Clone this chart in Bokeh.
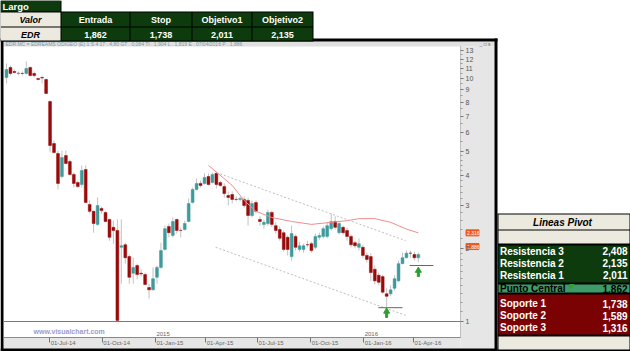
from bokeh.plotting import figure
from bokeh.models import Range1d, FixedTicker, PrintfTickFormatter, ColumnDataSource, LinearScale
from bokeh.core.properties import value
from bokeh.embed import file_html
from bokeh.resources import INLINE

# ---------------- data (weekly candles) ----------------
opens = [10.09, 11.10, 10.69, 10.49, 10.49, 10.49, 11.10, 10.49, 10.00, 10.09,
         9.91, 8.04, 5.40, 4.91, 3.95, 4.82, 4.55, 4.03, 3.73, 3.66,
         4.22, 3.03, 2.84, 2.51, 2.92, 2.81, 2.63, 2.44, 2.37, 2.02,
         2.07, 1.85, 1.58, 1.70, 1.58, 1.56, 1.38, 1.35, 1.52, 1.67,
         1.98, 2.46, 2.26, 2.63, 2.37, 2.39, 2.58, 3.09, 3.49, 3.70,
         3.70, 3.95, 3.73, 4.07, 3.73, 3.59, 3.30, 3.33, 3.18, 3.18,
         3.18, 3.15, 2.73, 3.09, 2.63, 2.51, 2.53, 2.81, 2.48, 2.39,
         2.32, 2.22, 1.85, 2.24, 1.98, 1.98, 2.07, 2.09, 2.02, 2.22,
         2.24, 2.24, 2.41, 2.58, 2.32, 2.44, 2.37, 2.24, 2.11, 2.02,
         2.02, 1.87, 1.85, 1.64, 1.55, 1.53, 1.30, 1.30, 1.37, 1.47,
         1.73, 1.83, 1.91, 1.886, 1.83]
closes = [10.89, 10.49, 10.59, 10.53, 10.49, 10.99, 10.29, 10.29, 9.91, 10.05,
          8.68, 5.30, 4.96, 3.70, 4.73, 4.47, 4.03, 3.70, 3.59, 4.18,
          3.09, 2.84, 2.53, 3.00, 2.86, 2.58, 2.22, 2.37, 1.01, 2.05,
          1.83, 1.52, 1.67, 1.56, 1.57, 1.42, 1.35, 1.50, 1.67, 1.96,
          2.41, 2.32, 2.58, 2.37, 2.37, 2.53, 3.06, 3.49, 3.70, 3.63,
          3.91, 3.66, 4.03, 3.66, 3.63, 3.36, 3.24, 3.18, 3.18, 3.21,
          3.00, 2.73, 3.06, 2.84, 2.58, 2.56, 2.81, 2.51, 2.37, 2.20,
          1.98, 1.98, 2.30, 2.02, 2.05, 2.05, 2.07, 1.96, 2.24, 2.26,
          2.41, 2.48, 2.58, 2.44, 2.53, 2.32, 2.24, 2.07, 2.05, 2.09,
          1.87, 1.80, 1.59, 1.47, 1.45, 1.32, 1.27, 1.35, 1.50, 1.73,
          1.83, 1.91, 1.91, 1.83, 1.886]
highs = [11.53, 11.31, 10.89, 10.69, 10.69, 11.75, 11.20, 10.69, 10.09, 10.29,
         10.00, 8.12, 5.56, 5.05, 5.05, 5.05, 4.64, 4.10, 3.80, 4.39,
         4.39, 3.15, 2.86, 3.24, 2.97, 2.84, 2.65, 2.60, 2.63, 2.63,
         2.11, 1.886, 1.83, 1.73, 1.64, 1.59, 1.43, 1.67, 1.70, 2.11,
         2.48, 2.53, 2.68, 2.65, 2.44, 2.60, 3.21, 3.56, 3.88, 3.80,
         4.07, 4.07, 4.10, 4.14, 3.80, 3.70, 3.43, 3.43, 3.27, 3.27,
         3.27, 3.24, 3.15, 3.15, 2.71, 2.63, 2.89, 2.86, 2.56, 2.46,
         2.37, 2.26, 2.48, 2.28, 2.13, 2.09, 2.15, 2.13, 2.30, 2.32,
         2.46, 2.56, 2.78, 2.71, 2.60, 2.48, 2.44, 2.28, 2.15, 2.20,
         2.07, 1.92, 1.91, 1.70, 1.59, 1.56, 1.37, 1.41, 1.55, 1.78,
         1.92, 1.96, 1.96, 1.94, 1.92]
lows = [9.54, 10.29, 10.49, 10.29, 10.29, 10.39, 10.19, 10.09, 9.81, 9.54,
        8.68, 4.96, 4.91, 3.49, 3.88, 4.43, 3.99, 3.56, 3.56, 3.56,
        3.09, 2.78, 2.32, 2.48, 2.78, 2.56, 2.15, 2.09, 1.00, 1.43,
        1.73, 1.43, 1.43, 1.49, 1.53, 1.41, 1.24, 1.34, 1.43, 1.65,
        1.96, 2.22, 2.22, 2.30, 2.22, 2.37, 2.56, 3.06, 3.46, 3.56,
        3.66, 3.63, 3.70, 3.53, 3.59, 3.24, 3.00, 3.06, 3.12, 3.12,
        2.94, 2.48, 2.68, 2.78, 2.48, 2.41, 2.48, 2.44, 2.30, 2.15,
        1.94, 1.87, 1.78, 1.96, 1.94, 1.92, 2.02, 1.92, 1.98, 2.17,
        2.20, 2.20, 2.37, 2.39, 2.28, 2.28, 2.15, 2.02, 2.00, 1.96,
        1.82, 1.75, 1.47, 1.42, 1.41, 1.30, 1.15, 1.27, 1.34, 1.45,
        1.72, 1.82, 1.83, 1.78, 1.75]

ma_idx = [51, 57, 60, 63, 67, 72, 77, 82, 86, 89, 93, 97, 101, 104]
ma_val = [4.39, 3.63, 3.15, 2.84, 2.68, 2.58, 2.51, 2.56, 2.60, 2.65, 2.65, 2.56, 2.40, 2.316]

chan_up_idx = [53.0, 100.8]
chan_up_val = [4.10, 2.15]
chan_lo_idx = [52.8, 100.8]
chan_lo_val = [2.02, 1.06]

level_x0 = [93.9, 101.8]
level_x1 = [100.0, 107.8]
level_val = [1.14, 1.70]
arrow_idx = [96, 104]
arrow_val = [1.10, 1.62]
base_level = 1.0
last_price = 1.886
ma_last = 2.316

tick_idx = [10.9, 24.2, 37.6, 50.3, 63.4, 76.8, 90.2, 102.8]
tick_labels = ["01-Jul-14", "01-Oct-14", "01-Jan-15", "01-Apr-15",
               "01-Jul-15", "01-Oct-15", "01-Jan-16", "01-Apr-16"]
year_idx = [37.6, 90.2]
year_labels = ["2015", "2016"]
y_ticks = [1, 2, 3, 4, 5, 6, 7, 8, 9, 10, 11, 12, 13]

top_headers = ["Entrada", "Stop", "Objetivo1", "Objetivo2"]
top_values = ["1,862", "1,738", "2,011", "2,135"]
pivot_names = ["Resistencia 3", "Resistencia 2", "Resistencia 1", "Punto Central",
               "Soporte 1", "Soporte 2", "Soporte 3"]
pivot_values = ["2,408", "2,135", "2,011", "1,862", "1,738", "1,589", "1,316"]

# ---------------- page geometry (pixels) ----------------
W, H = 630, 351
PX0, DX = 6.0, 3.96          # pixel of candle 0, pixels per candle
Y1PIX, KDEC = 321.0, 243.0   # pixel of price 1.0, pixels per decade


def idx_at(xp):
    return (xp - PX0) / DX


def price_at(yp):
    return 10 ** ((Y1PIX - yp) / KDEC)


PL, PR, PT, PB = 3, 460, 46, 337      # plot area inside chart window
UP, DOWN = "#3F9B9B", "#990A0A"
DKGREEN, BEIGE, MIDGREEN, DKRED = "#0D3B0D", "#ECE9DF", "#3E9A66", "#7A0202"
BAND = "#E6E6E6"
FONT = "Liberation Sans"

p = figure(width=W, height=H, x_range=Range1d(idx_at(0), idx_at(W)),
           y_range=Range1d(price_at(H), price_at(0)), y_axis_type="log",
           y_axis_location="right", output_backend="svg", toolbar_location=None,
           min_border=0, min_border_left=0, min_border_right=0,
           min_border_top=0, min_border_bottom=0)
p.extra_x_ranges = {"px": Range1d(0, W)}
p.extra_y_ranges = {"py": Range1d(H, 0)}
p.extra_x_scales = {"px": LinearScale()}
p.extra_y_scales = {"py": LinearScale()}
p.background_fill_color = "white"
p.border_fill_color = "white"
p.outline_line_color = None
p.grid.visible = False

# axes drawn inside the canvas at the chart window's edges
minor = [round(1 + 0.1 * k, 2) for k in range(1, 10)] + \
        [round(2 + 0.2 * k, 2) for k in range(1, 15) if k % 5] + \
        [round(5 + 0.5 * k, 2) for k in range(1, 16) if k % 2]
ya = p.yaxis[0]
ya.fixed_location = idx_at(PR)
ya.bounds = (price_at(PB), price_at(PT))
ya.ticker = FixedTicker(ticks=y_ticks, minor_ticks=minor)
ya.formatter = PrintfTickFormatter(format="%d")
ya.major_label_text_font_size = "7px"
ya.major_label_text_font = FONT
ya.major_label_text_color = "#555555"
ya.major_label_standoff = 2
ya.axis_line_color = "#8A8A8A"
ya.axis_line_dash = "1 1"
ya.major_tick_in = 0
ya.major_tick_out = 3
ya.minor_tick_in = 0
ya.minor_tick_out = 2
ya.major_tick_line_color = "#777777"
ya.minor_tick_line_color = "#999999"

xa = p.xaxis[0]
xa.fixed_location = price_at(PB)
xa.bounds = (idx_at(PL), idx_at(PR))
xa.ticker = FixedTicker(ticks=tick_idx)
xa.major_label_text_color = None
xa.axis_line_color = "#8A8A8A"
xa.major_tick_in = 0
xa.major_tick_out = 5
xa.minor_tick_out = 0
xa.major_tick_line_color = "#777777"

PXR = dict(x_range_name="px", y_range_name="py")


def boxes(ls, ts, rs, bs, color):
    p.quad(left=ls, right=rs, top=ts, bottom=bs, fill_color=color, line_color=None, **PXR)


def texts(xs, ys, ss, size="9px", color="white", style="bold", align="center", **kw):
    p.text(x=xs, y=ys, text=ss, text_font=value(FONT), text_font_size=value(size),
           text_color=color, text_font_style=style, text_align=align,
           text_baseline="middle", **kw)


# ---------------- chart window frame ----------------
boxes([PL], [41], [494], [PT], "#E0E0E0")          # info bar
boxes([PR], [PT], [494], [348], BAND)              # price axis band
boxes([PL], [PB], [PR], [348], BAND)               # date axis band
boxes([0, 0, 494, 0], [38, 38, 38, 348], [3, 497, 497, 497], [351, 41, 351, 351], "black")

# ---------------- candles ----------------
idx = list(range(len(opens)))
src = ColumnDataSource(dict(
    x=idx, h=highs, l=lows,
    top=[max(o, c) for o, c in zip(opens, closes)],
    bottom=[min(o, c) for o, c in zip(opens, closes)],
    color=[UP if c > o else DOWN for o, c in zip(opens, closes)]))
p.segment(x0="x", y0="h", x1="x", y1="l", source=src, line_color="#C2C2C2", line_width=1)
p.vbar(x="x", width=0.72, top="top", bottom="bottom", source=src,
       fill_color="color", line_color="color", line_width=0.5)

p.segment(x0=[idx_at(PL)], x1=[idx_at(PR)], y0=[base_level], y1=[base_level],
          line_color="#7A7A7A", line_width=1)
p.line(ma_idx, ma_val, line_color="#F28C8C", line_width=1)
p.line(chan_up_idx, chan_up_val, line_color="#BDBDBD", line_dash="2 2", line_width=1)
p.line(chan_lo_idx, chan_lo_val, line_color="#BDBDBD", line_dash="2 2", line_width=1)
p.segment(x0=level_x0, y0=level_val, x1=level_x1, y1=level_val, line_color="#666666", line_width=1)
p.scatter(arrow_idx, arrow_val, marker="triangle", size=6, color="#2E9E2E")
p.rect(arrow_idx, [v * 10 ** (-4 / KDEC) for v in arrow_val], width=2, height=4,
       width_units="screen", height_units="screen", color="#2E9E2E")

# price boxes on the axis
box_y = [ma_last, last_price * 10 ** (8 / KDEC)]
p.rect(x=[472, 472], y=box_y, width=13, height=6, width_units="screen",
       height_units="screen", color="#F2581E", x_range_name="px")
texts([466.5, 466.5], box_y, ["2.316", "1.886"], size="5px", style="normal",
      align="left", x_range_name="px")

# info bar / watermark / date labels
texts([5], [43.5], ["EDR.MC = EDREAMS ODIGEO  (E)  1 S 4 17 . 4,80 GT . 0,084 TI . 1,904 L . 1,819 E . 07/04/2016 P . 1,886"],
      size="5px", color="#7A9AAA", style="normal", align="left", **PXR)
texts([479], [43.5], ["_ \u25a1 x"], size="5px", color="#555555", style="normal", align="left", **PXR)
texts([33], [331], ["www.visualchart.com"], size="7px", color="#9C9CCC", align="left", **PXR)
texts(tick_idx, [342.5] * len(tick_idx), tick_labels, size="6px", color="#666666",
      style="normal", align="left", x_offset=1, y_range_name="py")
texts(year_idx, [333] * len(year_idx), year_labels, size="6px", color="#666666",
      style="normal", align="left", x_offset=1, y_range_name="py")

# ---------------- top table ----------------
boxes([0], [0], [61], [12], "black")
boxes([0], [0], [60], [11], DKGREEN)
boxes([0], [11], [313], [41], "black")
cols = [(0, 60), (61, 129), (130, 191), (192, 251), (252, 312)]
rows = [(12, 26), (27, 40)]
for ci, (l, r) in enumerate(cols):
    for (t, b) in rows:
        boxes([l], [t], [r], [b], BEIGE if ci == 0 else DKGREEN)
texts([2], [5.8], ["Largo"], size="9.5px", align="left", **PXR)
texts([30, 30], [19.5, 34], ["Valor", "EDR"], color="black", style="bold italic", **PXR)
cx = [(l + r) / 2 for l, r in cols[1:]]
texts(cx, [19.5] * 4, top_headers, **PXR)
texts(cx, [34] * 4, top_values, **PXR)

# ---------------- pivot table ----------------
boxes([497], [213], [630], [351], "black")
boxes([498, 498], [214, 230], [629, 629], [229, 243], BEIGE)
boxes([498], [245], [629], [282], DKGREEN)
boxes([498], [284], [629], [292], MIDGREEN)
boxes([498], [294], [629], [334], DKRED)
boxes([498], [336], [629], [349], BEIGE)
p.patch([569, 573.5, 569], [284, 284, 288.5], color="#2E9E2E", **PXR)
texts([562], [222], ["Lineas Pivot"], size="10px", color="black", style="bold italic", **PXR)
centers = [250.5, 262.5, 274.5, 288, 303, 315, 327]
colors = ["black" if k == 3 else "white" for k in range(len(pivot_names))]
texts([499.5] * 7, centers, pivot_names, size="10px", color=colors, align="left", **PXR)
texts([627] * 7, centers, pivot_values, size="10px", color=colors, align="right", **PXR)

open("out.html", "w").write(file_html(p, INLINE))
